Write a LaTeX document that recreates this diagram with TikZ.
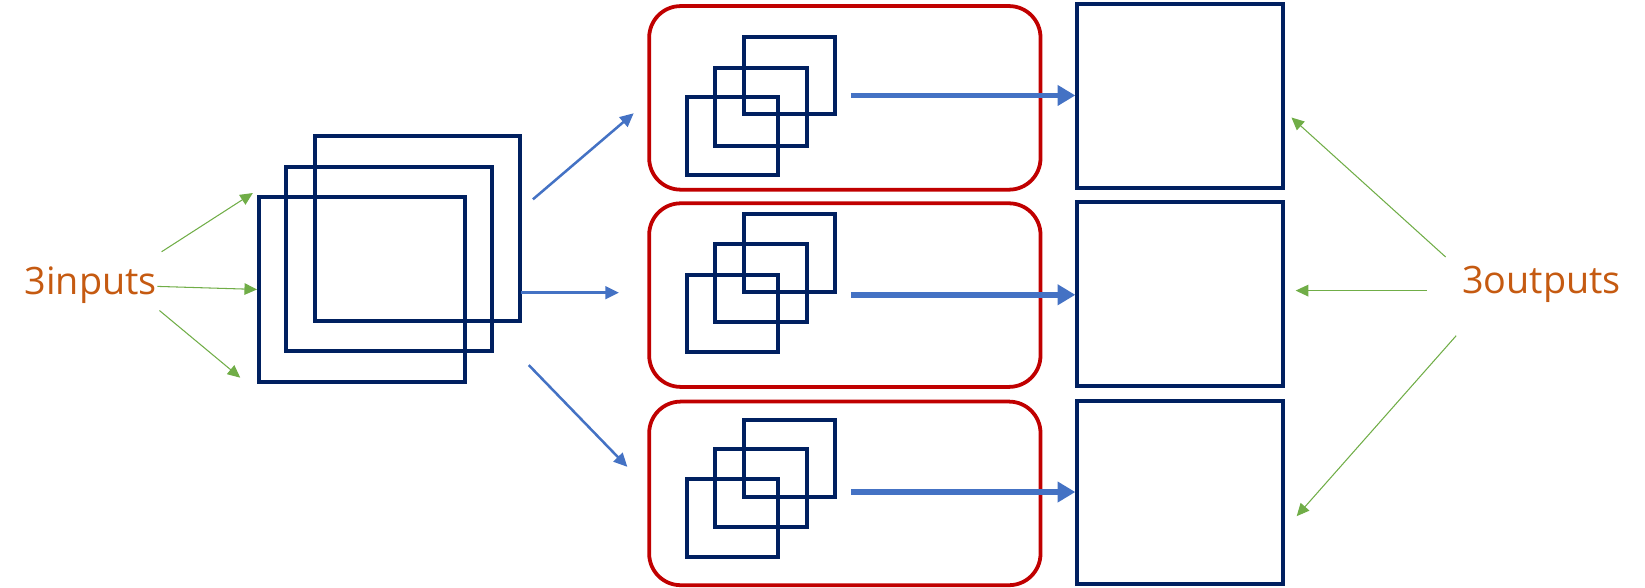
\documentclass[tikz,border=0pt]{standalone}
\usepackage{fontspec}
\setmainfont{Open Sans}
\usetikzlibrary{arrows.meta}
\definecolor{navy}{HTML}{002060}
\definecolor{pblue}{HTML}{4472C4}
\definecolor{pgreen}{HTML}{70AD47}
\definecolor{porange}{HTML}{C55A11}
\definecolor{pred}{HTML}{C00000}
\begin{document}
\begin{tikzpicture}[x=0.5pt,y=-0.5pt,
  bigbox/.style={draw=navy,line width=1.9pt,minimum width=98pt,minimum height=88pt,anchor=north west,inner sep=0pt},
  smallbox/.style={draw=navy,line width=1.9pt,minimum width=43.5pt,minimum height=37pt,anchor=north west,inner sep=0pt},
  outbox/.style={draw=navy,line width=1.9pt,minimum width=98pt,minimum height=87.5pt,anchor=north west,inner sep=0pt},
  groupbox/.style={draw=pred,line width=1.8pt,rounded corners=15pt,minimum width=186.5pt,minimum height=87.5pt,anchor=north west,inner sep=0pt},
  label/.style={text=porange,font=\fontsize{18}{20}\selectfont,anchor=base,inner sep=0pt},
  greenarrow/.style={draw=pgreen,line width=0.5pt,-{Triangle[length=6pt,width=5.5pt]}},
  thinblue/.style={draw=pblue,line width=1.2pt,-{Triangle[length=6.5pt,width=6pt]}},
  thickblue/.style={draw=pblue,line width=2.8pt,-{Triangle[length=8.5pt,width=9.5pt]}}
]
\useasboundingbox (0,0) rectangle (1568,560);

% left stack
\node[bigbox] (L1) at (298,128) {};
\node[bigbox] (L2) at (271,157) {};
\node[bigbox] (L3) at (245,186) {};

% group boxes
\node[groupbox] (G1) at (617,4) {};
\node[groupbox] (G2) at (617,192) {};
\node[groupbox] (G3) at (617,381) {};

% small stacks
\node[smallbox] (A1) at (707,33) {};
\node[smallbox] (A2) at (680,63) {};
\node[smallbox] (A3) at (653,91) {};
\node[smallbox] (B1) at (707,202) {};
\node[smallbox] (B2) at (680,231) {};
\node[smallbox] (B3) at (653,260) {};
\node[smallbox] (C1) at (707,398) {};
\node[smallbox] (C2) at (680,426) {};
\node[smallbox] (C3) at (653,455) {};

% output boxes
\node[outbox] (R1) at (1025,2) {};
\node[outbox] (R2) at (1025,191) {};
\node[outbox] (R3) at (1025,380) {};

% labels
\node[label] (inp) at (86.5,281) {3inputs};
\node[label] (outp) at (1469.5,280) {3outputs};

% coordinates
\coordinate (gi1) at (154,240);
\coordinate (gi2) at (150,273);
\coordinate (gi3) at (152,296);
\coordinate (ti1) at (241,184);
\coordinate (ti3) at (229,360);

\coordinate (bs1) at (508,190);
\coordinate (bs2) at (497,279);
\coordinate (bs3) at (504,348);
\coordinate (be1) at (604,108);
\coordinate (be2) at (590,279);
\coordinate (be3) at (598,445);

\coordinate (ks1) at (811,91);
\coordinate (ks2) at (811,281);
\coordinate (ks3) at (811,469);

\coordinate (go1) at (1378,245);
\coordinate (go2) at (1360,277);
\coordinate (go3) at (1388,320);
\coordinate (to1) at (1231,112);
\coordinate (to2) at (1235,277);
\coordinate (to3) at (1236,492);

% green input arrows
\draw[greenarrow] (gi1) -- (ti1);
\draw[greenarrow] (gi2) -- (L3.west);
\draw[greenarrow] (gi3) -- (ti3);

% thin blue arrows
\draw[thinblue] (bs1) -- (be1);
\draw[thinblue] (bs2) -- (be2);
\draw[thinblue] (bs3) -- (be3);

% thick blue arrows
\draw[thickblue] (ks1) -- (R1.west |- ks1);
\draw[thickblue] (ks2) -- (R2.west |- ks2);
\draw[thickblue] (ks3) -- (R3.west |- ks3);

% green output arrows
\draw[greenarrow] (go1) -- (to1);
\draw[greenarrow] (go2) -- (to2);
\draw[greenarrow] (go3) -- (to3);
\end{tikzpicture}
\end{document}
